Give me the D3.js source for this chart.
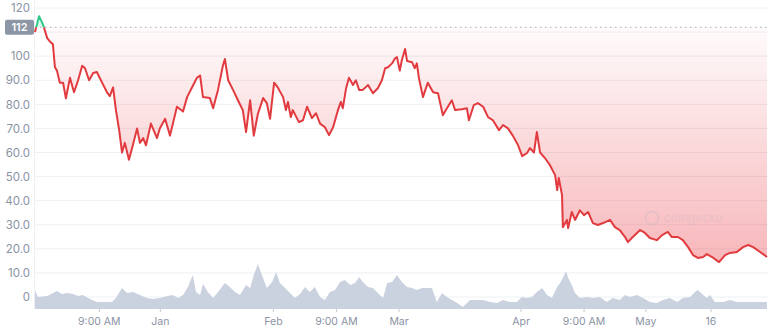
<!DOCTYPE html>
<html>
<head>
<meta charset="utf-8">
<script src="https://cdn.jsdelivr.net/npm/d3@7"></script>
<style>
  body { margin: 0; background: #fff; }
  svg { display: block; font-family: Inter, "Noto Sans", sans-serif; }
  .tick text { fill: #8a93a3; }
</style>
</head>
<body>
<script>
// price samples (day index, price)
const priceDay = [0,1.0,2.0,3.0,3.7,4.4,4.9,5.4,6.1,6.9,7.6,8.6,9.6,10.6,11.6,12.3,13.3,14.3,15.2,16.5,17.7,18.4,19.2,19.9,20.7,21.4,22.1,23.1,23.9,25.1,25.8,26.6,27.3,28.5,30.0,30.7,32.0,33.2,34.9,36.4,37.4,38.6,39.8,40.6,41.3,43.0,43.8,45.0,46.2,46.7,47.5,48.7,49.9,51.1,51.9,52.9,53.8,54.8,56.1,57.0,57.8,58.8,59.7,61.0,61.7,62.2,62.9,63.4,64.9,65.9,66.9,68.1,69.1,70.1,71.3,72.3,73.3,74.5,75.2,75.7,76.5,77.2,78.2,78.9,79.7,80.6,81.9,83.1,84.3,85.3,86.1,86.8,87.8,88.5,89.0,89.7,90.2,91.0,91.5,92.7,93.4,93.9,94.4,95.4,96.6,97.9,99.1,100.3,101.3,102.5,103.3,105.0,106.2,106.7,107.9,108.9,110.2,111.4,112.6,114.1,115.1,116.3,117.5,118.8,119.8,121.0,121.7,122.7,123.4,124.2,125.4,126.6,127.9,128.4,128.8,129.6,129.8,130.8,131.1,132.0,132.8,134.0,135.0,136.0,137.2,138.4,139.7,141.4,142.6,143.8,145.1,145.8,147.0,148.8,150.0,151.2,152.9,154.2,155.6,156.6,158.1,159.3,160.6,161.8,163.0,164.3,165.2,166.5,168.2,169.7,170.9,172.6,174.1,175.4,176.6,178.3,180.0];
const priceValue = [110,116.6,113,107.5,106,105,95.4,94,89,89,82.5,91,85,90,96,95,90,93,93.4,89,85,83.4,87,77.6,69.3,60,64,57,62,70,64,66,63,72,66,70,74,67,79,77,83,87,91,92,83,82.6,78.4,86,96,98.8,90,86,81.7,77.6,68.5,81.7,67,76,82.6,80.5,74,89,87,83,77.6,81,74.7,77.6,72.6,73.4,79,74.3,76.3,72,70.5,67.2,70.5,77.6,81,78.4,86.7,91,88,90,86,86,88,84.6,86.7,90,95,95.4,97,99,99.6,94,98.3,103,98,97.5,95,97,91,83,89,85,84.6,75.5,78.4,81.7,77.6,78,78.4,73.4,79.7,80.5,79,74.7,73.4,69.3,71.4,70,67,63,58.5,59.8,61.8,60,68.5,60,57.7,54.8,50.6,44.4,49.4,42.3,29,32,28.6,35.3,32,36,34,35.3,30.7,29.9,30.7,32,29,27.8,24.9,22.8,24.9,27.8,26.6,24.5,23.6,25.7,27,24.9,24.9,23.6,20.7,17.4,16.2,16.6,17.8,16.6,14.5,17.4,18.3,18.7,20.7,21.6,20.7,18.7,16.6];

// volume samples (day index, volume)
const volDay = [0,0.7,3.0,5.4,6.6,7.9,9.3,10.6,11.8,13.0,15.2,16.7,18.9,19.9,21.4,22.6,24.1,25.8,27.5,29.0,30.7,32.5,33.9,35.2,36.4,37.6,38.8,39.6,40.6,41.3,42.5,43.8,45.0,46.7,47.9,49.2,50.4,51.9,52.9,53.8,54.8,55.8,57.0,58.3,59.3,60.2,61.5,62.7,63.9,65.2,66.4,67.6,68.8,70.1,71.3,72.5,73.8,75.0,76.2,77.5,78.7,79.7,80.6,81.9,83.1,84.3,85.6,86.6,87.8,89.0,90.2,91.5,92.7,93.9,95.2,96.4,97.6,98.8,100.1,101.3,102.5,103.8,105.2,107.0,108.7,110.2,111.9,113.6,115.1,116.8,118.5,119.7,121.0,122.2,123.4,124.7,125.9,127.1,128.4,129.1,129.8,130.6,131.1,132.0,132.8,134.0,135.7,137.2,138.9,140.6,142.1,143.8,145.1,146.3,148.0,149.5,151.2,152.9,154.4,156.1,157.9,159.3,161.1,162.3,163.0,164.3,165.2,166.0,167.2,169.2,170.9,172.6,174.1,175.8,177.5,180.0];
const volValue = [19,12,13,18,15,16,15,13,14,11,7,7,7,11,21,16,17,14,11,10,11,13,14,11,14,22,34,17,14,25,17,11,17,26,22,17,14,24,21,34,45,34,21,27,37,26,21,16,11,15,22,17,22,12,9,17,19,27,29,24,26,32,27,22,21,16,11,26,27,34,27,22,21,19,21,21,21,7,16,12,9,6,2,9,9,9,7,6,9,7,7,12,11,12,17,21,14,11,22,26,31,38,31,24,16,11,12,11,12,7,11,9,14,12,14,11,7,6,9,11,7,11,12,17,19,14,11,14,7,7,9,7,7,7,7,7];

const yTicks = [0,10,20,30,40,50,60,70,80,90,100,120];
const gridTicks = [0,10,20,30,40,50,60,70,80,90,100,110,120];
const xTickDays = [15.7,30.7,58.5,74,89.4,119.4,134.9,150.1,166.1];
const xTickLabels = ["9:00 AM","Jan","Feb","9:00 AM","Mar","Apr","9:00 AM","May","16"];
const refPrice = 112;

const width = 768, height = 330;
const left = 35, right = 767;

const svg = d3.select("body").append("svg")
  .attr("width", width).attr("height", height);

const x = d3.scaleLinear().domain([0, 180]).range([left, right]);
const y = d3.scaleLinear().domain([0, 120]).range([297, 8]);
const v = d3.scaleLinear().domain([0, 50]).range([309, 259]);

const prices = priceDay.map((d, i) => ({ t: d, p: priceValue[i] }));
const vols = volDay.map((d, i) => ({ t: d, v: volValue[i] }));

// gridlines
svg.append("g").selectAll("line").data(gridTicks).enter().append("line")
  .attr("x1", left).attr("x2", width)
  .attr("y1", d => y(d)).attr("y2", d => y(d))
  .attr("stroke", "#eef0f4").attr("stroke-width", 1);

svg.append("line")
  .attr("x1", left - 0.5).attr("x2", left - 0.5)
  .attr("y1", 0).attr("y2", 309)
  .attr("stroke", "#eef0f4");

// volume
const volArea = d3.area()
  .x(d => x(d.t)).y0(v(0)).y1(d => v(d.v));
svg.append("path").attr("d", volArea(vols))
  .attr("fill", "#cbd2df");

// gradient + clips
const defs = svg.append("defs");
const grad = defs.append("linearGradient").attr("id", "redFill")
  .attr("gradientUnits", "userSpaceOnUse")
  .attr("x1", 0).attr("x2", 0).attr("y1", y(refPrice)).attr("y2", y(10));
grad.append("stop").attr("offset", 0).attr("stop-color", "#ea3943").attr("stop-opacity", 0.02);
grad.append("stop").attr("offset", 1).attr("stop-color", "#ea3943").attr("stop-opacity", 0.38);

defs.append("clipPath").attr("id", "below").append("rect")
  .attr("x", 0).attr("y", y(refPrice)).attr("width", width).attr("height", height);
defs.append("clipPath").attr("id", "above").append("rect")
  .attr("x", 0).attr("y", 0).attr("width", width).attr("height", y(refPrice));

const area = d3.area().x(d => x(d.t)).y0(y(refPrice)).y1(d => y(d.p));
const line = d3.line().x(d => x(d.t)).y(d => y(d.p));

svg.append("path").attr("d", area(prices))
  .attr("fill", "url(#redFill)").attr("clip-path", "url(#below)");
svg.append("path").attr("d", area(prices))
  .attr("fill", "#16c784").attr("opacity", 0.15).attr("clip-path", "url(#above)");

// watermark
const wm = svg.append("g").attr("opacity", 0.22);
wm.append("circle").attr("cx", 652).attr("cy", 218).attr("r", 6.5)
  .attr("fill", "none").attr("stroke", "#aab2c0").attr("stroke-width", 2);
wm.append("text").attr("x", 664).attr("y", 222)
  .attr("font-size", 12).attr("fill", "#aab2c0").text("coingecko");

// reference dotted line
svg.append("line")
  .attr("x1", left).attr("x2", width)
  .attr("y1", y(refPrice)).attr("y2", y(refPrice))
  .attr("stroke", "#a3abb8").attr("stroke-width", 1)
  .attr("stroke-dasharray", "1.5,3.5");

svg.append("path").attr("d", line(prices))
  .attr("fill", "none").attr("stroke", "#e23b3f").attr("stroke-width", 2)
  .attr("stroke-linejoin", "round").attr("clip-path", "url(#below)");
svg.append("path").attr("d", line(prices))
  .attr("fill", "none").attr("stroke", "#2fc98a").attr("stroke-width", 2)
  .attr("stroke-linejoin", "round").attr("clip-path", "url(#above)");

// y axis
const yAxis = d3.axisLeft(y).tickValues(yTicks)
  .tickFormat(d => d === 0 ? "0" : d >= 100 ? String(d) : d.toFixed(1))
  .tickSize(0).tickPadding(5);
const yg = svg.append("g").attr("transform", `translate(${left},0)`).call(yAxis);
yg.select(".domain").remove();
yg.selectAll("text").attr("font-size", 11.5).attr("font-family", "Inter, sans-serif");

// x axis
const xAxis = d3.axisBottom(x).tickValues(xTickDays)
  .tickFormat((d, i) => xTickLabels[i]).tickSize(3).tickPadding(6);
const xg = svg.append("g").attr("transform", "translate(0,309)").call(xAxis);
xg.select(".domain").remove();
xg.selectAll("line").attr("stroke", "#c3c9d3");
xg.selectAll("text").attr("font-size", 10.5).attr("font-family", "Inter, sans-serif");

// reference badge
const badge = svg.append("g");
badge.append("rect").attr("x", 5).attr("y", y(refPrice) - 7.5)
  .attr("width", 29).attr("height", 15).attr("rx", 2).attr("fill", "#8d96a5");
badge.append("text").attr("x", 19.5).attr("y", y(refPrice))
  .attr("dy", "0.35em").attr("text-anchor", "middle")
  .attr("font-size", 11).attr("font-weight", 600).attr("fill", "#fff")
  .text(refPrice);
</script>
</body>
</html>
